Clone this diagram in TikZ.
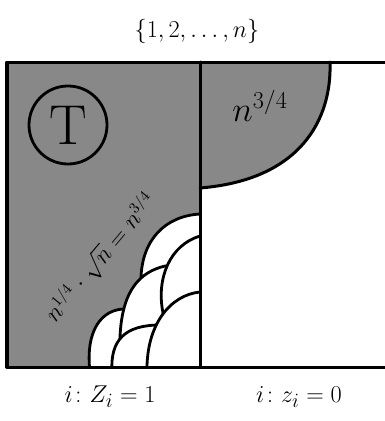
\documentclass[tikz,border=0pt]{standalone}
\usepackage{amsmath}
\definecolor{boxgray}{HTML}{888888}
\tikzset{
  frameline/.style={line width=0.075cm, line cap=round, line join=round},
  tile/.style={fill=white, draw=black, line width=0.07cm},
  mathlbl/.style={inner sep=0pt, font=\fontsize{18}{20}\selectfont},
}

\begin{document}
\begin{tikzpicture}[x=0.025cm, y=-0.025cm]
    \useasboundingbox (0,0) rectangle (385,421);
    % shaded parts
    \fill[boxgray] (7,62) rectangle (200,367);
    \fill[boxgray] (200,62) -- (330,62) .. controls (332,120) and (300,180) .. (200,188) -- cycle;
    \draw[frameline] (330,62) .. controls (332,120) and (300,180) .. (200,188);
    % scales in the corner, back to front
    \begin{scope}
      \clip (7,62) rectangle (200,367);
      \draw[tile] (90,372) .. controls (85,330) and (102,309) .. (125,309) -- (260,309) -- (260,420) -- (90,420) -- cycle;
      \draw[tile] (141,278) .. controls (142,240) and (165,216) .. (200,214) -- (260,214) -- (260,420) -- (150,420) -- cycle;
      \draw[tile] (120,337) .. controls (122,290) and (140,272) .. (165,266) -- (260,266) -- (260,420) -- (125,420) -- cycle;
      \draw[tile] (163,313) .. controls (156,278) and (170,245) .. (200,236) -- (260,236) -- (260,420) -- (170,420) -- cycle;
      \draw[tile] (112,372) .. controls (110,340) and (125,325) .. (160,325) -- (260,325) -- (260,420) -- (112,420) -- cycle;
      \draw[tile] (147,372) .. controls (146,325) and (170,295) .. (200,292) -- (260,292) -- (260,420) -- (147,420) -- cycle;
    \end{scope}
    % frame
    \draw[frameline] (385,62) -- (7,62) -- (7,367) -- (385,367);
    \draw[frameline] (200,62) -- (200,367);
    % labels
    \node[mathlbl, font=\fontsize{19}{22}\selectfont] (set) at (197,31) {$\{1,2,\ldots,n\}$};
    \node[circle, draw, line width=0.07cm, minimum size=1.95cm, inner sep=0pt,
          font=\fontsize{40}{40}\selectfont] (tset) at (68,125) {T};
    \node[mathlbl, font=\fontsize{36}{36}\selectfont] (corner) at (260,106) {$n^{\scriptscriptstyle 3/4}$};
    \node[mathlbl, font=\fontsize{16}{20}\selectfont, rotate=50] (slope) at (101,258) {$n^{1/4}\cdot\sqrt{n}=n^{3/4}$};
    \node[mathlbl, font=\fontsize{19}{22}\selectfont] (ones) at (110,397) {$i\colon Z_i=1$};
    \node[mathlbl, font=\fontsize{19}{22}\selectfont] (zeros) at (299,397) {$i\colon z_i=0$};
\end{tikzpicture}
\end{document}
